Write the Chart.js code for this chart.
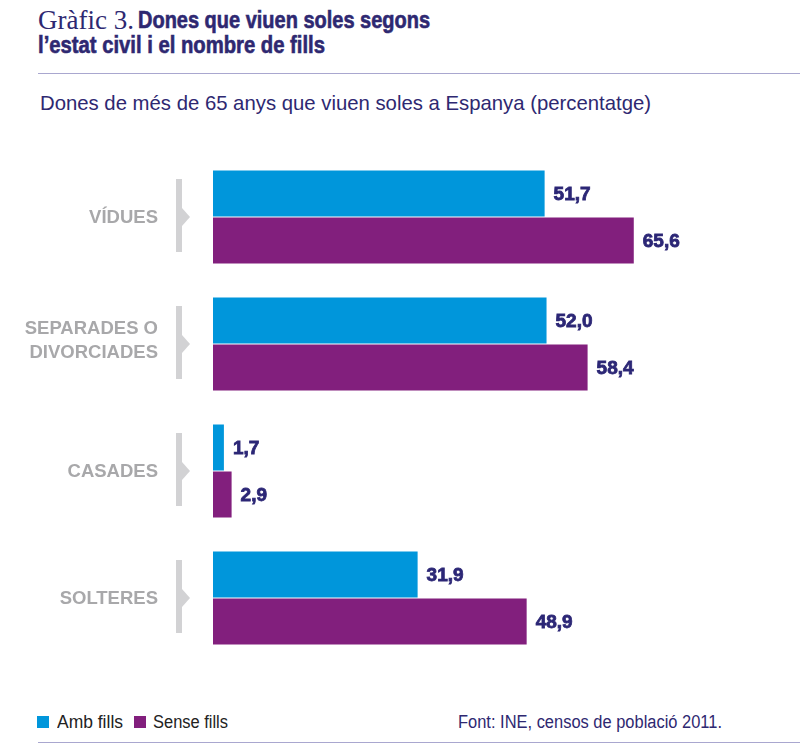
<!DOCTYPE html>
<html><head><meta charset="utf-8">
<script src="https://cdn.jsdelivr.net/npm/chart.js@4/dist/chart.umd.min.js"></script>
<style>
html,body{margin:0;padding:0;background:#fff;}
#wrap{position:relative;width:800px;height:749px;overflow:hidden;font-family:"Liberation Sans",Arial,sans-serif;}
#c{position:absolute;left:0;top:0;}
.t{position:absolute;white-space:nowrap;color:#2e2871;transform-origin:0 50%;}
.b{font-weight:bold;-webkit-text-stroke:0.6px #2e2871;}
.rule{position:absolute;left:38px;right:0;height:1px;background:#a9a7cf;}
.sq{position:absolute;width:12px;height:12px;}
</style></head>
<body><div id="wrap">
<div class="t" id="ts" style="left:38px;top:5px;font-size:27px;line-height:30px;font-family:'Liberation Serif',serif;">Gràfic 3.</div>
<div class="t b" id="tb" style="left:138px;top:6px;font-size:23px;line-height:28px;">Dones que viuen soles segons</div>
<div class="t b" id="tb2" style="left:38px;top:31px;font-size:23px;line-height:28px;">l’estat civil i el nombre de fills</div>
<div class="rule" style="top:73px;"></div>
<div class="t" id="sub" style="left:40px;top:90px;font-size:21px;line-height:26px;">Dones de més de 65 anys que viuen soles a Espanya (percentatge)</div>
<div class="sq" style="left:37px;top:716px;background:#0096db"></div>
<div class="t" id="l1" style="left:57px;top:711px;font-size:18px;line-height:22px;color:#222;">Amb fills</div>
<div class="sq" style="left:134px;top:716px;background:#821f7d"></div>
<div class="t" id="l2" style="left:153px;top:711px;font-size:18px;line-height:22px;color:#222;">Sense fills</div>
<div class="t" id="src" style="left:458px;top:711px;font-size:18px;line-height:22px;">Font: INE, censos de població 2011.</div>
<div class="rule" style="top:742px;"></div>
<canvas id="c" width="800" height="749"></canvas>
</div>
<script>
const categories = [["VÍDUES"], ["SEPARADES O", "DIVORCIADES"], ["CASADES"], ["SOLTERES"]];
const ambFills = [51.7, 52.0, 1.7, 31.9];
const senseFills = [65.6, 58.4, 2.9, 48.9];
const seriesNames = ["Amb fills", "Sense fills"];

function fit(id, w){const e=document.getElementById(id);const r=e.getBoundingClientRect().width;e.style.transform='scaleX('+(w/r)+')';}
fit('ts',96); fit('tb',292); fit('tb2',287); fit('sub',611); fit('l1',66); fit('l2',75); fit('src',264);

const fmt = v => v.toFixed(1).replace('.', ',');

const deco = {
  id:'deco',
  afterDatasetsDraw(chart){
    const ctx = chart.ctx, y = chart.scales.y;
    ctx.save();
    categories.forEach((lab,i)=>{
      const cy = y.getPixelForValue(i);
      ctx.fillStyle = '#d2d2d4';
      ctx.fillRect(176, cy-38, 6, 73);
      ctx.beginPath();
      ctx.moveTo(182, cy-9); ctx.lineTo(190, cy); ctx.lineTo(182, cy+9); ctx.closePath(); ctx.fill();
      ctx.fillStyle = '#a8a8aa';
      ctx.font = 'bold 18.5px "Liberation Sans", Arial, sans-serif';
      ctx.textAlign = 'right'; ctx.textBaseline = 'middle';
      const lh = 23.5, n = lab.length, off = n > 1 ? -3 : 1;
      lab.forEach((s,k)=>ctx.fillText(s, 158, cy + off + (k-(n-1)/2)*lh));
    });
    ctx.fillStyle = '#2c2776';
    ctx.strokeStyle = '#2c2776';
    ctx.lineWidth = 0.8;
    ctx.font = 'bold 19px "Liberation Sans", Arial, sans-serif';
    ctx.textAlign = 'left'; ctx.textBaseline = 'middle';
    chart.data.datasets.forEach((ds,di)=>{
      chart.getDatasetMeta(di).data.forEach((bar,i)=>{
        const s = fmt(ds.data[i]);
        ctx.fillText(s, bar.x + 9, bar.y + 1);
        ctx.strokeText(s, bar.x + 9, bar.y + 1);
      });
    });
    ctx.restore();
  }
};

new Chart(document.getElementById('c'), {
  type:'bar',
  data:{
    labels: categories,
    datasets:[
      {label:seriesNames[0], data:ambFills, backgroundColor:'#0096db', barPercentage:0.98, categoryPercentage:0.74},
      {label:seriesNames[1], data:senseFills, backgroundColor:'#821f7d', barPercentage:0.98, categoryPercentage:0.74}
    ]
  },
  options:{
    indexAxis:'y', responsive:false, animation:false, devicePixelRatio:1,
    layout:{padding:{left:213, right:138, top:153.5, bottom:87.5}},
    scales:{
      x:{display:false, min:0, max:70},
      y:{display:false}
    },
    plugins:{legend:{display:false}, tooltip:{enabled:false}}
  },
  plugins:[deco]
});
</script>
</body></html>
